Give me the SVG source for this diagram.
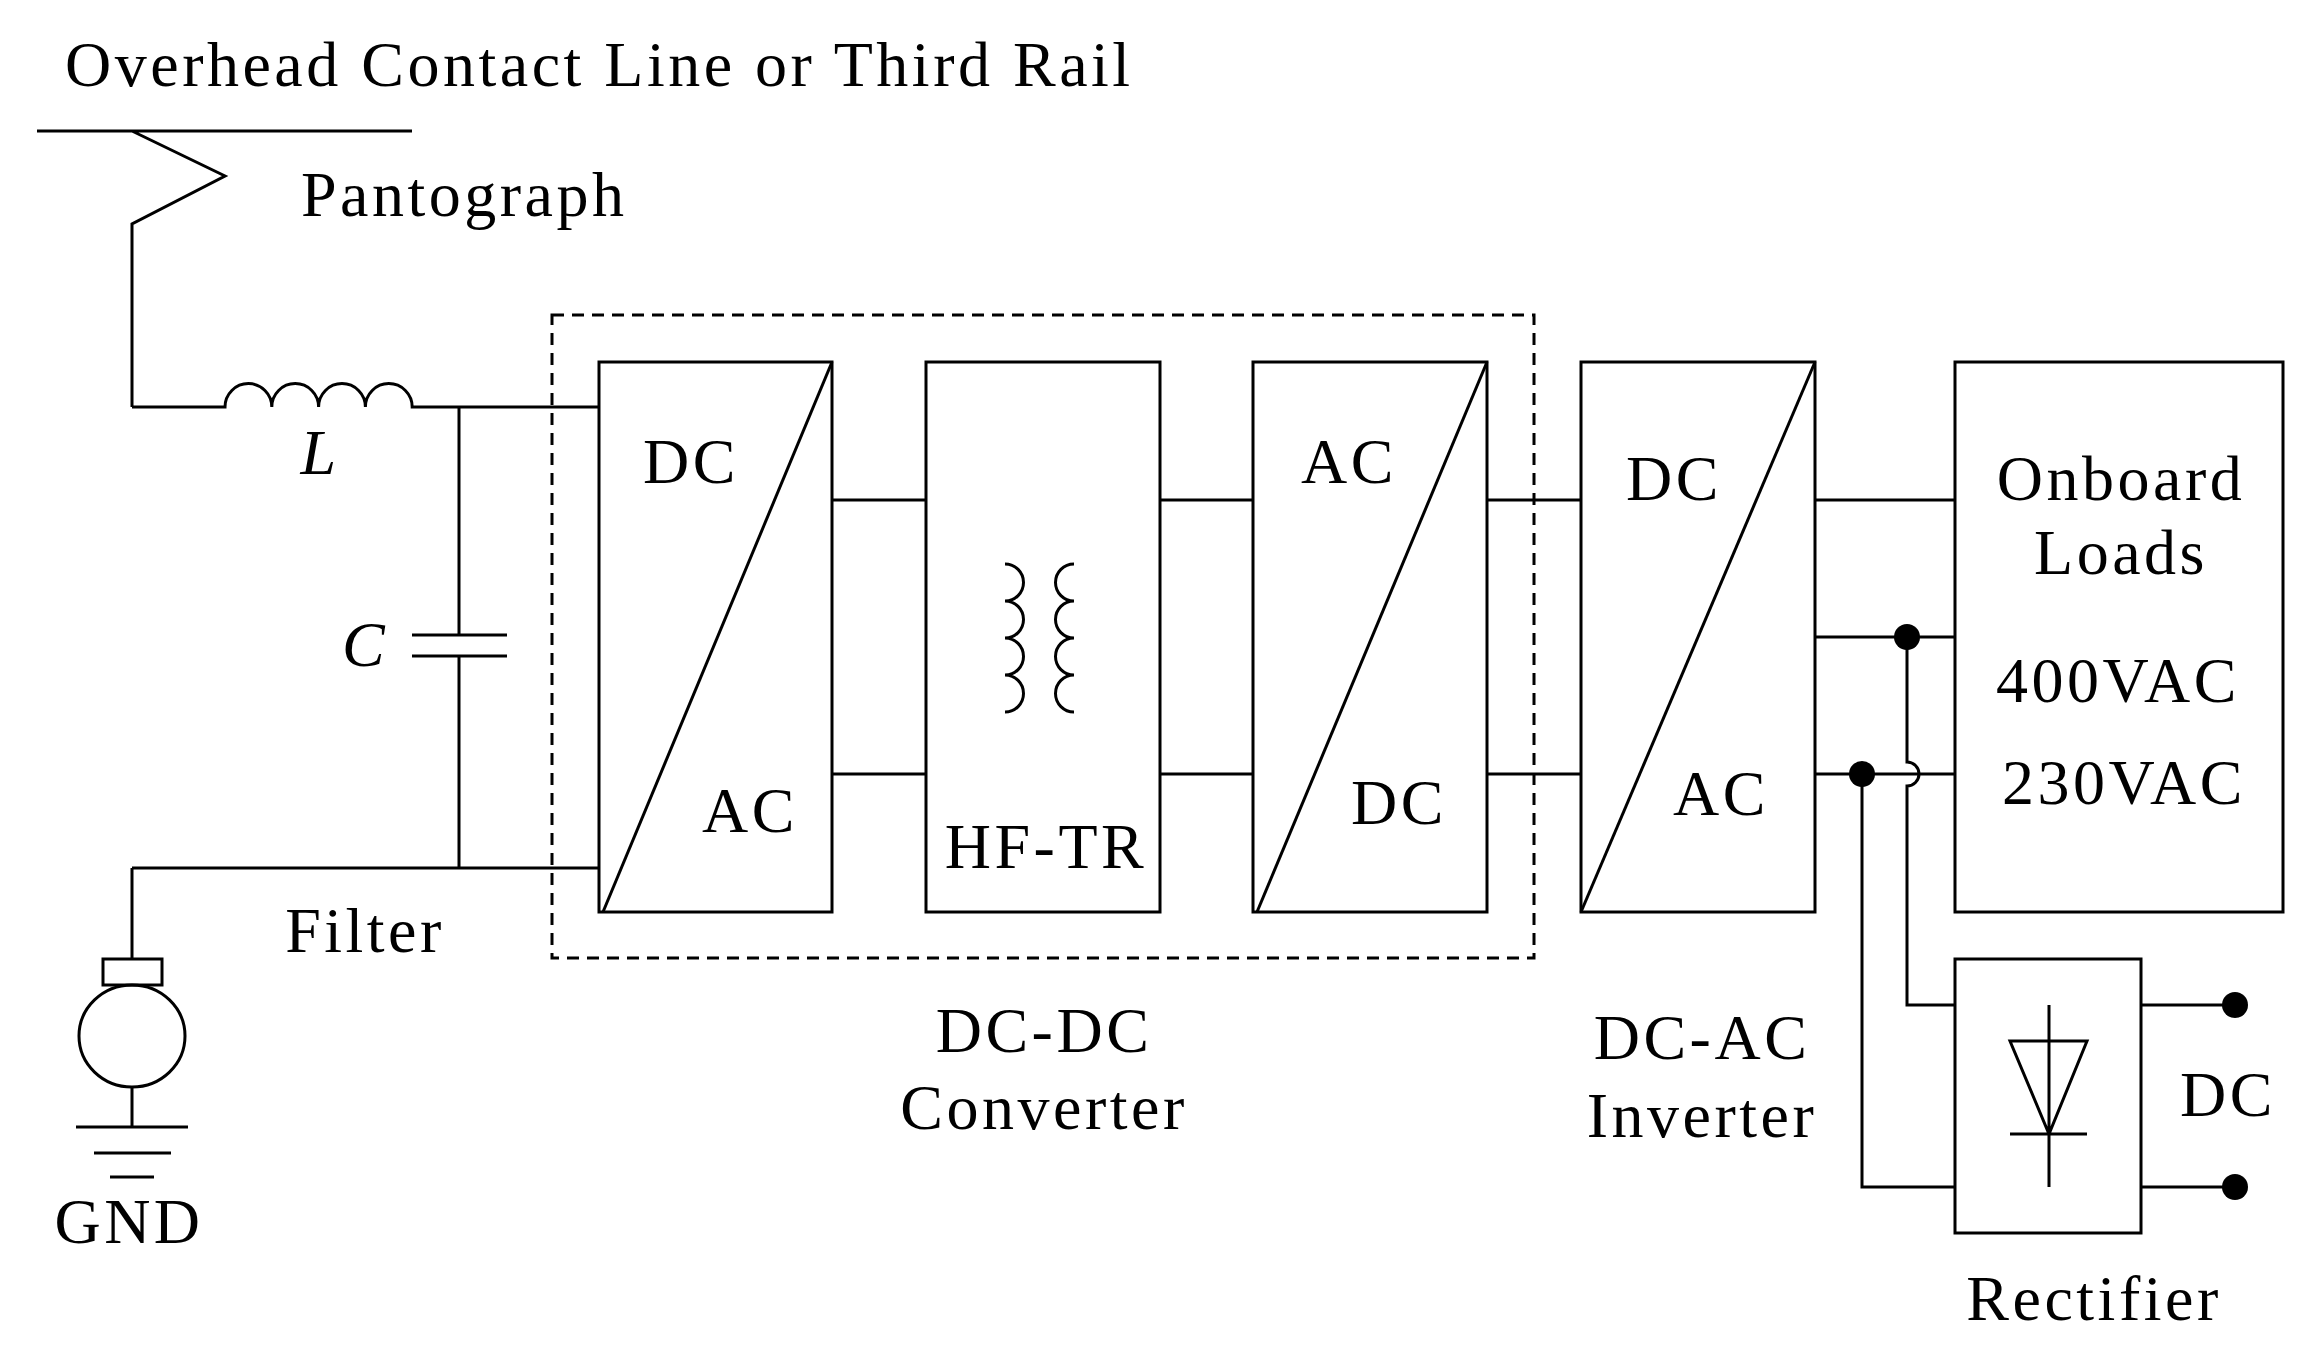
<svg xmlns="http://www.w3.org/2000/svg" width="2306" height="1356" viewBox="0 0 2306 1356">
<style>
.w{fill:none;stroke:#000;stroke-width:3}
.t{font-family:"Liberation Serif",serif;font-size:64px;letter-spacing:3.5px;fill:#000}
.m{text-anchor:middle}
.d{fill:#000}
</style>
<rect width="2306" height="1356" fill="#fff"/>
<g id="labels">
<text class="t" x="65" y="86">Overhead Contact Line or Third Rail</text>
<text class="t" x="301" y="216">Pantograph</text>
<text class="t m" x="320" y="474" font-style="italic">L</text>
<text class="t m" x="365" y="666" font-style="italic">C</text>
<text class="t m" x="365" y="952">Filter</text>
<text class="t m" x="129" y="1243">GND</text>
<text class="t m" x="1044" y="1052">DC-DC</text>
<text class="t m" x="1044" y="1129">Converter</text>
<text class="t m" x="1702" y="1059">DC-AC</text>
<text class="t m" x="1702" y="1137">Inverter</text>
<text class="t m" x="2228" y="1116">DC</text>
<text class="t m" x="2094" y="1320">Rectifier</text>
</g>
<g id="pantograph"><path class="w" d="M37 131H412M132 407V224L225 176L132 131"/></g>
<g id="filter">
<path class="w" d="M132 407H225a23.4 23.4 0 0 1 46.8 0a23.4 23.4 0 0 1 46.8 0a23.4 23.4 0 0 1 46.8 0a23.4 23.4 0 0 1 46.8 0H599"/>
<path class="w" d="M459 407V635M412 635H507M412 656H507M459 656V868M132 868H599"/>
</g>
<g id="motor"><path class="w" d="M132 868V959"/><rect class="w" x="103" y="959" width="59" height="26"/><ellipse class="w" cx="132" cy="1036" rx="53" ry="51"/><path class="w" d="M132 1087V1127M76 1127H188M94 1153H171M110 1177H154"/></g>
<g id="dcdc"><rect class="w" x="552" y="315" width="982" height="643" stroke-dasharray="12 8"/></g>
<g id="dcac1"><rect class="w" x="599" y="362" width="233" height="550"/><path class="w" d="M603 912L832 362"/><text class="t m" x="691" y="483">DC</text><text class="t m" x="750" y="832">AC</text></g>
<g id="hftr"><rect class="w" x="926" y="362" width="234" height="550"/>
<path class="w" d="M1005 564a18.5 18.5 0 0 1 0 37a18.5 18.5 0 0 1 0 37a18.5 18.5 0 0 1 0 37a18.5 18.5 0 0 1 0 37M1074 564a18.5 18.5 0 0 0 0 37a18.5 18.5 0 0 0 0 37a18.5 18.5 0 0 0 0 37a18.5 18.5 0 0 0 0 37"/>
<text class="t m" x="1046" y="868">HF-TR</text></g>
<g id="acdc"><rect class="w" x="1253" y="362" width="234" height="550"/><path class="w" d="M1257 912L1487 362"/><text class="t m" x="1349" y="483">AC</text><text class="t m" x="1399" y="824">DC</text></g>
<g id="inverter"><rect class="w" x="1581" y="362" width="234" height="550"/><path class="w" d="M1581 912L1815 362"/><text class="t m" x="1674" y="500">DC</text><text class="t m" x="1721" y="815">AC</text></g>
<g id="loads"><rect class="w" x="1955" y="362" width="328" height="550"/><text class="t m" x="2121" y="500">Onboard</text><text class="t m" x="2121" y="574">Loads</text><text class="t m" x="2118" y="702">400VAC</text><text class="t m" x="2124" y="804">230VAC</text></g>
<g id="rectifier"><rect class="w" x="1955" y="959" width="186" height="274"/><path class="w" d="M2049 1005V1187M2010 1041H2087L2049 1134ZM2010 1134H2087"/></g>
<g id="connectors">
<path class="w" d="M832 500H926M832 774H926M1160 500H1253M1160 774H1253M1487 500H1581M1487 774H1581M1815 500H1955M1815 637H1955M1815 774H1955"/>
<path class="w" d="M1907 637V762a12 12 0 0 1 0 24V1005H1955M1862 774V1187H1955M2141 1005H2235M2141 1187H2235"/>
<circle class="d" cx="1907" cy="637" r="13"/><circle class="d" cx="1862" cy="774" r="13"/>
<circle class="d" cx="2235" cy="1005" r="13"/><circle class="d" cx="2235" cy="1187" r="13"/>
</g>
</svg>
